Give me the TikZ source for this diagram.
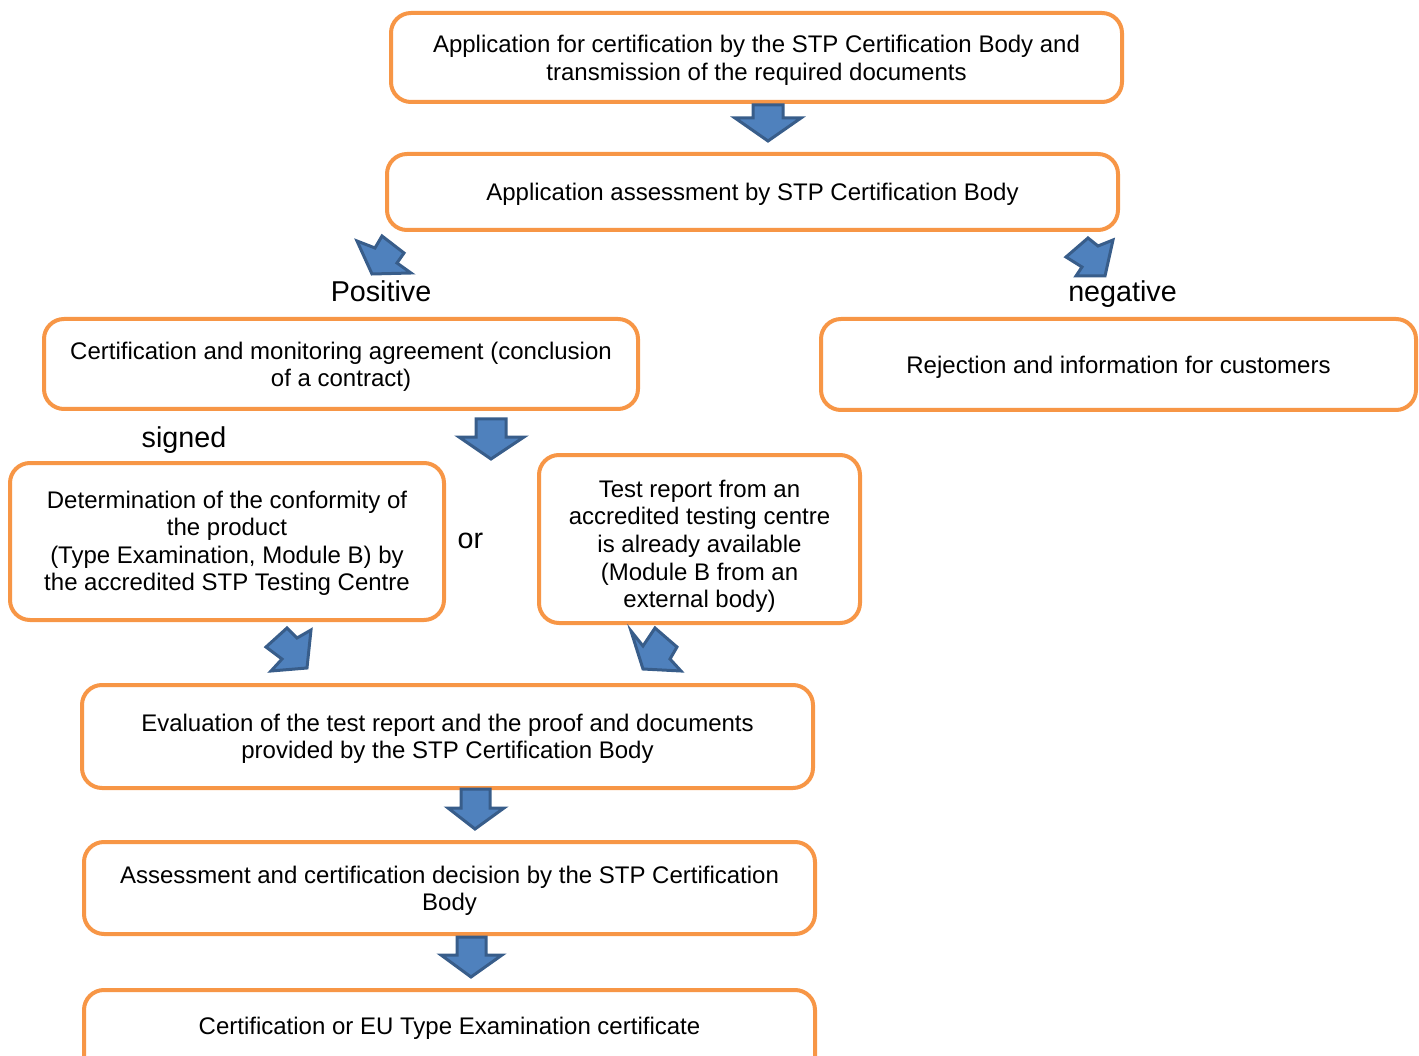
\documentclass[tikz,border=0pt]{standalone}
\usepackage{fontspec}
\setmainfont{Liberation Sans}
\definecolor{boxorange}{HTML}{F79646}
\definecolor{arrfill}{HTML}{4F81BD}
\definecolor{arrline}{HTML}{385D8A}
\newcommand{\bxt}[2]{\raisebox{-#1pt}[\height][\depth]{\begin{tabular}{@{}c@{}}#2\end{tabular}}}
\begin{document}
\begin{tikzpicture}[x=1pt,y=-1pt,
  flowbox/.style={draw=boxorange, line width=4pt, rounded corners=20pt, fill=white,
    align=center, inner sep=0pt, font=\fontsize{24}{27.6}\selectfont},
  blockarrow/.style={fill=arrfill, draw=arrline, line width=3pt, line join=miter},
  lbl/.style={inner sep=0pt, anchor=base, font=\fontsize{28.7}{33}\selectfont}]
\useasboundingbox (0,0) rectangle (1419,1056);
\clip (0,0) rectangle (1419,1056);

% boxes
\node[flowbox, minimum width=731pt, minimum height=89pt] (b1) at (756.5,57.5)
  {\bxt{3.5}{Application for certification by the STP Certification Body and\\transmission of the required documents}};
\node[flowbox, minimum width=731pt, minimum height=76pt] (b2) at (752.5,192)
  {\bxt{3}{Application assessment by STP Certification Body}};
\node[flowbox, minimum width=594pt, minimum height=90pt] (b3) at (341,364)
  {\bxt{3.5}{Certification and monitoring agreement (conclusion\\of a contract)}};
\node[flowbox, minimum width=595pt, minimum height=91pt] (b4) at (1118.5,364.5)
  {\bxt{3.5}{Rejection and information for customers}};
\node[flowbox, minimum width=434pt, minimum height=157pt] (b5) at (227,541.5)
  {\bxt{2.5}{Determination of the conformity of\\the product\\(Type Examination, Module B) by\\the accredited STP Testing Centre}};
\node[flowbox, minimum width=321pt, minimum height=168pt] (b6) at (699.5,539)
  {\bxt{8}{Test report from an\\accredited testing centre\\is already available\\(Module B from an\\external body)}};
\node[flowbox, minimum width=731pt, minimum height=103pt] (b7) at (447.5,736.5)
  {\bxt{3}{Evaluation of the test report and the proof and documents\\provided by the STP Certification Body}};
\node[flowbox, minimum width=731pt, minimum height=92pt] (b8) at (449.5,888)
  {\bxt{3.5}{Assessment and certification decision by the STP Certification\\Body}};
\node[flowbox, minimum width=731pt, minimum height=90pt] (b9) at (449.5,1035)
  {\bxt{-6}{Certification or EU Type Examination certificate}};

% labels
\node[lbl] (pos) at (381,302) {Positive};
\node[lbl] (neg) at (1122.5,302) {negative};
\node[lbl] (sig) at (184,447) {signed};
\node[lbl] (or) at (470.5,548) {or};

% block arrows
\draw[blockarrow] (753,105) -- (783,105) -- (783,118) -- (801,118) -- (768,141) -- (735,118) -- (753,118) -- cycle;
\draw[blockarrow] (476,419) -- (506,419) -- (506,437) -- (524,437) -- (491,459) -- (459,437) -- (476,437) -- cycle;
\draw[blockarrow] (461,789) -- (490,789) -- (490,808) -- (504,808) -- (475,829) -- (448,808) -- (461,808) -- cycle;
\draw[blockarrow] (457,937) -- (486,937) -- (486,955) -- (502,955) -- (471,977) -- (441,955) -- (457,955) -- cycle;
% positive (skewed)
\draw[blockarrow] (382,236) -- (404,253) -- (397,263) -- (411,273) -- (372,274) -- (357,241) -- (375,248) -- cycle;
% negative (skewed)
\draw[blockarrow] (1088,238) -- (1098,246) -- (1113,240) -- (1105,276) -- (1076,276) -- (1082,267) -- (1066,257) -- cycle;
% from b5
\draw[blockarrow] (287,628) -- (297,638) -- (311,630) -- (307,668) -- (271,671) -- (282,659) -- (266,647) -- cycle;
% from b6
\draw[blockarrow] (655,628) -- (677,647) -- (670,659) -- (681,671) -- (643,669) -- (631,631) -- (643,646) -- cycle;
\end{tikzpicture}
\end{document}
